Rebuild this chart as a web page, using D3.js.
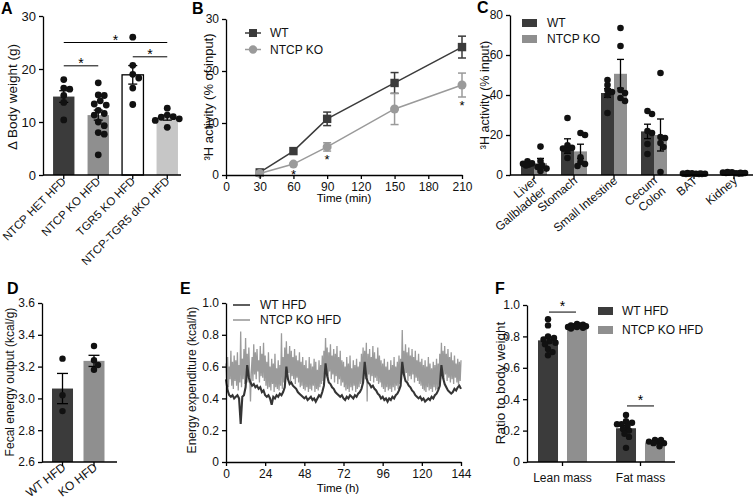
<!DOCTYPE html>
<html>
<head>
<meta charset="utf-8">
<script src="https://cdn.jsdelivr.net/npm/d3@7"></script>
<style>
body { margin: 0; background: #fff; }
</style>
</head>
<body>
<svg id="fig" width="755" height="503"></svg>
<script>
var FONT = '"Liberation Sans", Arial, Helvetica, sans-serif';

// ---- A: body weight gain ----
var groupsA = ["NTCP HET HFD", "NTCP KO HFD", "TGR5 KO HFD", "NTCP-TGR5 dKO HFD"];
var meanA = [14.8, 11.3, 18.9, 10.8];
var semA = [1.1, 0.95, 1.75, 0.45];
var dotsA = [
  [18.0, 16.2, 16.4, 15.0, 13.7, 10.4],
  [17.4, 15.1, 15.0, 14.0, 13.4, 13.2, 12.2, 11.6, 11.3, 10.0, 9.3, 8.0, 7.7, 3.8],
  [26.0, 20.7, 19.0, 18.3, 16.4, 13.3],
  [12.6, 11.3, 11.0, 10.9, 10.6, 10.3, 9.0]
];
var sigA = [[0, 3, 25], [0, 1, 20.6], [2, 3, 22.3]]; // group i, group j, bracket level (g)
var ticksA = [0, 10, 20, 30];

// ---- B: 3H activity over time ----
var timeB = [30, 60, 90, 150, 210];
var wtB = [0.5, 4.6, 10.8, 17.7, 24.6];
var wtSemB = [0.3, 0.4, 1.3, 2.0, 2.1];
var koB = [0.3, 2.1, 5.4, 12.7, 17.3];
var koSemB = [0.2, 0.3, 0.8, 3.0, 2.3];
var starsB = [60, 90, 210];
var ticksBx = [0, 30, 60, 90, 120, 150, 180, 210];
var ticksBy = [0, 10, 20, 30];

// ---- C: 3H activity per organ ----
var organsC = ["Liver\nGallbladder", "Stomach", "Small Intestine", "Cecum\nColon", "BAT", "Kidney"];
var seriesC = ["WT", "NTCP KO"];
var wtC = [5.4, 14.5, 41.0, 21.8, 0.7, 1.2];
var wtSemC = [0.9, 3.6, 2.2, 3.6, 0.2, 0.2];
var koC = [5.9, 11.8, 50.6, 20.0, 0.6, 0.9];
var koSemC = [2.4, 3.6, 7.2, 8.0, 0.1, 0.2];
var wtDotsC = [
  [6.8, 5.8, 5.2, 5.6, 4.8],
  [28.5, 14.8, 13.6, 13.2, 8.5, 12.4],
  [45, 42.5, 47.5, 41.5, 31, 40],
  [32, 30.5, 21, 15.5, 10.5, 22],
  [1.0, 0.7, 0.6, 0.8, 0.5],
  [1.5, 1.2, 1.0, 1.3, 1.1]
];
var koDotsC = [
  [14.2, 7.0, 4.8, 3.2, 2.0, 4.0],
  [21, 20, 8.8, 6.5, 4.5, 5.5],
  [73.5, 64.5, 42.5, 37, 38.5, 41],
  [51, 18.5, 16, 14, 1.5, 19],
  [0.6, 0.5, 0.7, 0.6, 0.5],
  [0.9, 1.1, 0.8, 1.0, 0.7]
];
var ticksC = [0, 20, 40, 60, 80];

// ---- D: fecal energy ----
var groupsD = ["WT HFD", "KO HFD"];
var meanD = [3.062, 3.236];
var semD = [0.095, 0.035];
var dotsD = [[3.25, 3.02, 2.92], [3.33, 3.24, 3.18, 3.21]];
var ticksD = [2.6, 2.8, 3.0, 3.2, 3.4, 3.6];

// ---- E: energy expenditure ----
var stepWtE = 1;   // h between WT samples
var stepKoE = 0.5; // h between KO samples
var wtE = [
  0.52,0.45,0.42,0.41,0.42,0.40,0.41,0.42,0.40,0.24,0.41,0.42,
  0.47,0.61,0.53,0.50,0.48,0.49,0.47,0.48,0.46,0.47,0.44,0.45,
  0.42,0.41,0.42,0.40,0.36,0.41,0.40,0.42,0.41,0.43,0.42,0.44,
  0.47,0.60,0.52,0.49,0.50,0.48,0.47,0.46,0.44,0.43,0.42,0.41,
  0.40,0.41,0.39,0.40,0.41,0.39,0.40,0.38,0.40,0.42,0.41,0.44,
  0.48,0.62,0.54,0.50,0.49,0.47,0.46,0.44,0.43,0.42,0.41,0.42,
  0.40,0.39,0.41,0.40,0.42,0.41,0.40,0.42,0.41,0.43,0.44,0.46,
  0.50,0.63,0.53,0.50,0.49,0.47,0.48,0.46,0.45,0.43,0.42,0.40,
  0.41,0.39,0.40,0.38,0.40,0.39,0.41,0.40,0.42,0.43,0.45,0.48,
  0.63,0.55,0.51,0.50,0.48,0.47,0.45,0.44,0.42,0.41,0.40,0.41,
  0.39,0.40,0.38,0.39,0.40,0.39,0.41,0.40,0.42,0.43,0.45,0.48,
  0.61,0.53,0.49,0.47,0.45,0.44,0.43,0.44,0.46,0.45,0.47,0.48,0.46
];
var koE = [
  0.62,0.50,0.66,0.47,0.60,0.52,0.70,0.48,0.63,0.46,0.67,0.51,0.64,0.48,0.69,0.45,0.61,0.50,0.82,0.47,0.65,0.52,0.71,0.49,
  0.78,0.53,0.68,0.50,0.72,0.54,0.38,0.56,0.66,0.51,0.74,0.55,0.69,0.52,0.71,0.57,0.64,0.50,0.73,0.54,0.68,0.53,0.75,0.51,
  0.67,0.48,0.63,0.46,0.69,0.47,0.60,0.45,0.65,0.49,0.62,0.44,0.68,0.47,0.59,0.46,0.64,0.45,0.61,0.48,0.81,0.46,0.66,0.50,
  0.72,0.55,0.76,0.52,0.68,0.56,0.73,0.50,0.70,0.54,0.66,0.52,0.71,0.49,0.67,0.53,0.64,0.50,0.69,0.47,0.63,0.48,0.66,0.46,
  0.61,0.45,0.64,0.47,0.59,0.44,0.66,0.46,0.62,0.45,0.60,0.48,0.65,0.44,0.63,0.46,0.58,0.45,0.64,0.47,0.61,0.49,0.67,0.51,
  0.70,0.53,0.78,0.55,0.72,0.51,0.69,0.57,0.74,0.52,0.67,0.55,0.71,0.50,0.68,0.54,0.73,0.49,0.66,0.52,0.70,0.48,0.64,0.50,
  0.63,0.47,0.60,0.45,0.66,0.46,0.62,0.44,0.67,0.47,0.59,0.45,0.64,0.48,0.61,0.44,0.65,0.46,0.60,0.47,0.63,0.49,0.68,0.50,
  0.72,0.54,0.70,0.52,0.75,0.38,0.68,0.55,0.71,0.51,0.66,0.54,0.73,0.50,0.69,0.53,0.65,0.51,0.72,0.49,0.67,0.50,0.64,0.47,
  0.62,0.46,0.65,0.44,0.60,0.47,0.63,0.45,0.58,0.46,0.64,0.44,0.61,0.47,0.66,0.45,0.60,0.48,0.63,0.46,0.67,0.49,0.65,0.51,
  0.83,0.55,0.70,0.53,0.74,0.56,0.69,0.51,0.72,0.54,0.67,0.52,0.71,0.55,0.66,0.50,0.70,0.53,0.64,0.51,0.68,0.49,0.63,0.48,
  0.65,0.46,0.61,0.45,0.64,0.44,0.60,0.47,0.66,0.45,0.62,0.46,0.59,0.44,0.63,0.47,0.61,0.45,0.65,0.46,0.62,0.48,0.68,0.52,
  0.75,0.54,0.70,0.52,0.73,0.55,0.68,0.51,0.71,0.53,0.66,0.50,0.69,0.52,0.64,0.49,0.67,0.53,0.62,0.50,0.65,0.48,0.63,0.51,
  0.64
];
var ticksEx = [0, 24, 48, 72, 96, 120, 144];
var ticksEy = [0, 0.2, 0.4, 0.6, 0.8, 1.0];

// ---- F: body composition ----
var groupsF = ["Lean mass", "Fat mass"];
var seriesF = ["WT HFD", "NTCP KO HFD"];
var wtF = [0.775, 0.215];
var wtSemF = [0.02, 0.018];
var koF = [0.865, 0.125];
var koSemF = [0.004, 0.008];
var wtDotsF = [
  [0.91, 0.87, 0.80, 0.79, 0.78, 0.77, 0.76, 0.75, 0.72, 0.70, 0.68],
  [0.30, 0.26, 0.25, 0.24, 0.24, 0.23, 0.21, 0.20, 0.16, 0.09, 0.18]
];
var koDotsF = [
  [0.88, 0.875, 0.87, 0.87, 0.865, 0.865, 0.86, 0.86, 0.855, 0.85],
  [0.14, 0.13, 0.13, 0.12, 0.10, 0.12, 0.14]
];
var sigF = [0.955, 0.357]; // bracket level per group
var ticksF = [0, 0.2, 0.4, 0.6, 0.8, 1.0];

var DARK = "#3b3b3b", MID = "#8f8f8f", LIGHT = "#c6c6c6";

var svg = d3.select("#fig");
var fmt1 = function(d) { return d === 0 ? "0" : d3.format(".1f")(d); };

function styleAxis(g) {
  g.attr("font-family", FONT).attr("font-size", 12);
  g.selectAll(".domain").attr("stroke", "#000").attr("stroke-width", 1.3);
  g.selectAll(".tick line").attr("stroke", "#000").attr("stroke-width", 1.3);
  g.selectAll(".tick text").attr("fill", "#111");
}

function yTitle(text, x, y, size) {
  svg.append("text")
    .attr("transform", "translate(" + x + "," + y + ") rotate(-90)")
    .attr("text-anchor", "middle")
    .style("font-family", FONT).style("font-size", size + "px").attr("fill", "#111")
    .text(text);
}

function letter(t, x, y) {
  svg.append("text").attr("x", x).attr("y", y).text(t)
    .style("font-family", FONT).style("font-size", "16px").style("font-weight", "bold");
}

function errBar(g, cx, y1, y2, cap, color, w) {
  g.append("line").attr("x1", cx).attr("x2", cx).attr("y1", y1).attr("y2", y2)
    .attr("stroke", color).attr("stroke-width", w);
  [y1, y2].forEach(function(yy) {
    g.append("line").attr("x1", cx - cap / 2).attr("x2", cx + cap / 2).attr("y1", yy).attr("y2", yy)
      .attr("stroke", color).attr("stroke-width", w);
  });
}

// column scatter: try offsets 0, +g, -g, +2g ... within maxOff, keep the first that is free
function swarm(vals, cx, y, r, gap, minF, maxOff) {
  var placed = [], out = [];
  var order = vals.map(function(v, i) { return i; }).sort(function(a, b) { return vals[b] - vals[a]; });
  order.forEach(function(i) {
    var py = y(vals[i]), best = cx, bestD = -1;
    for (var k = 0; ; k++) {
      var off = k === 0 ? 0 : Math.ceil(k / 2) * gap * (k % 2 ? 1 : -1);
      if (Math.abs(off) > maxOff) break;
      var px = cx + off;
      var dmin = placed.reduce(function(m, p) { return Math.min(m, Math.hypot(p[0] - px, p[1] - py)); }, 1e9);
      if (dmin >= minF * r) { best = px; bestD = 1e9; break; }
      if (dmin > bestD) { bestD = dmin; best = px; }
    }
    placed.push([best, py]);
    out[i] = [best, py];
  });
  return out;
}

function dots(g, vals, cx, y, r, gap, minF, maxOff) {
  g.selectAll(null).data(swarm(vals, cx, y, r, gap, minF, maxOff)).enter().append("circle")
    .attr("cx", function(d) { return d[0]; })
    .attr("cy", function(d) { return d[1]; })
    .attr("r", r).attr("fill", "#111");
}

function rotLabel(lines, x, y, size, ang) {
  var t = svg.append("text")
    .attr("transform", "translate(" + x + "," + y + ") rotate(" + (-ang) + ")")
    .attr("text-anchor", "end")
    .style("font-family", FONT).style("font-size", size + "px").attr("fill", "#111");
  lines.forEach(function(l, i) {
    t.append("tspan").attr("x", 0).attr("dy", i === 0 ? 0 : "1.1em").text(l);
  });
}

// ======================= A =======================
var xA = d3.scaleBand().domain(groupsA).range([46.5, 184.5]).paddingInner(0.38).paddingOuter(0.19);
var yA = d3.scaleLinear().domain([0, 30]).range([175, 16]);
var colA = [DARK, MID, "#ffffff", LIGHT];
var gA = svg.append("g");

gA.selectAll(".barA").data(groupsA).enter().append("rect")
  .attr("x", function(d) { return xA(d); })
  .attr("y", function(d, i) { return yA(meanA[i]); })
  .attr("width", xA.bandwidth())
  .attr("height", function(d, i) { return yA(0) - yA(meanA[i]); })
  .attr("fill", function(d, i) { return colA[i]; })
  .attr("stroke", function(d, i) { return i === 2 ? "#000" : "none"; })
  .attr("stroke-width", 1.3);

groupsA.forEach(function(gname, i) {
  var cx = xA(gname) + xA.bandwidth() / 2;
  errBar(gA, cx, yA(meanA[i] + semA[i]), yA(meanA[i] - semA[i]), 9, "#000", 1.3);
  dots(gA, dotsA[i], cx, yA, 3.4, 2, 1.75, 13);
  rotLabel([gname], cx + 3, 182, 11.5, 45);
});

sigA.forEach(function(s) {
  var x1 = xA(groupsA[s[0]]) + xA.bandwidth() / 2, x2 = xA(groupsA[s[1]]) + xA.bandwidth() / 2;
  gA.append("line").attr("x1", x1).attr("x2", x2).attr("y1", yA(s[2])).attr("y2", yA(s[2]))
    .attr("stroke", "#000").attr("stroke-width", 1);
  gA.append("text").attr("x", (x1 + x2) / 2).attr("y", yA(s[2]) + 2).attr("text-anchor", "middle")
    .style("font-family", FONT).style("font-size", "14px").text("*");
});

svg.append("g").attr("transform", "translate(43,0)")
  .call(d3.axisLeft(yA).tickValues(ticksA).tickSize(4).tickSizeOuter(0)).call(styleAxis)
  .attr("font-size", 13);
svg.append("g").attr("transform", "translate(0,175)")
  .call(d3.axisBottom(xA).tickSize(4).tickSizeOuter(0).tickFormat(""))
  .call(styleAxis)
  .select(".domain").attr("d", "M43,0H181");

yTitle("\u0394 Body weight (g)", 17, 97, 13.5);
letter("A", 1, 14);

// ======================= B =======================
var xB = d3.scaleLinear().domain([0, 210]).range([226, 462]);
var yB = d3.scaleLinear().domain([0, 30]).range([175, 19]);
var gB = svg.append("g");
var lineB = d3.line().x(function(d) { return xB(d[0]); }).y(function(d) { return yB(d[1]); });
var wtPts = timeB.map(function(t, i) { return [t, wtB[i], wtSemB[i]]; });
var koPts = timeB.map(function(t, i) { return [t, koB[i], koSemB[i]]; });
var KOB = "#9a9a9a";

gB.append("path").datum(wtPts).attr("d", lineB).attr("fill", "none").attr("stroke", DARK).attr("stroke-width", 1.5);
wtPts.forEach(function(p) {
  if (p[2] > 0.6) errBar(gB, xB(p[0]), yB(p[1] + p[2]), yB(p[1] - p[2]), 8, DARK, 1.5);
});
gB.selectAll(".sqB").data(wtPts).enter().append("rect")
  .attr("x", function(d) { return xB(d[0]) - 4.2; })
  .attr("y", function(d) { return yB(d[1]) - 4.2; })
  .attr("width", 8.4).attr("height", 8.4).attr("fill", DARK);

gB.append("path").datum(koPts).attr("d", lineB).attr("fill", "none").attr("stroke", KOB).attr("stroke-width", 1.5);
koPts.forEach(function(p) {
  if (p[2] > 0.6) errBar(gB, xB(p[0]), yB(p[1] + p[2]), yB(p[1] - p[2]), 8, KOB, 1.5);
});
gB.selectAll(".ciB").data(koPts).enter().append("circle")
  .attr("cx", function(d) { return xB(d[0]); })
  .attr("cy", function(d) { return yB(d[1]); })
  .attr("r", 4.5).attr("fill", KOB);

starsB.forEach(function(t) {
  var i = timeB.indexOf(t);
  gB.append("text").attr("x", xB(t)).attr("y", yB(koB[i] - koSemB[i]) + 13).attr("text-anchor", "middle")
    .style("font-family", FONT).style("font-size", "13px").text("*");
});

// legend B
[["WT", DARK, "sq"], ["NTCP KO", KOB, "ci"]].forEach(function(l, i) {
  var ly = 33 + i * 16.5;
  gB.append("line").attr("x1", 245).attr("x2", 261).attr("y1", ly).attr("y2", ly).attr("stroke", l[1]).attr("stroke-width", 1.5);
  if (l[2] === "sq") gB.append("rect").attr("x", 249).attr("y", ly - 4).attr("width", 8).attr("height", 8).attr("fill", l[1]);
  else gB.append("circle").attr("cx", 253).attr("cy", ly).attr("r", 4.2).attr("fill", l[1]);
  gB.append("text").attr("x", 270).attr("y", ly + 4.3).text(l[0])
    .style("font-family", FONT).style("font-size", "12px").attr("fill", "#111");
});

svg.append("g").attr("transform", "translate(226,0)")
  .call(d3.axisLeft(yB).tickValues(ticksBy).tickSize(4).tickSizeOuter(0)).call(styleAxis);
svg.append("g").attr("transform", "translate(0,175)")
  .call(d3.axisBottom(xB).tickValues(ticksBx).tickSize(4).tickSizeOuter(0)).call(styleAxis);
svg.append("text").attr("x", 344).attr("y", 202).attr("text-anchor", "middle").text("Time (min)")
  .style("font-family", FONT).style("font-size", "11.5px");
yTitle("\u00b3H activity (% of input)", 213, 97, 13);
letter("B", 192, 14);

// ======================= C =======================
var xC = d3.scaleBand().domain(organsC).range([514, 754]).paddingInner(0.35).paddingOuter(0.175);
var subC = d3.scaleBand().domain(seriesC).range([0, xC.bandwidth()]);
var yC = d3.scaleLinear().domain([0, 80]).range([175, 15]);
var gC = svg.append("g");
var colC = [DARK, MID];

organsC.forEach(function(o, i) {
  [[wtC, wtSemC, wtDotsC], [koC, koSemC, koDotsC]].forEach(function(s, j) {
    var x0 = xC(o) + subC(seriesC[j]);
    gC.append("rect").attr("x", x0).attr("y", yC(s[0][i])).attr("width", subC.bandwidth())
      .attr("height", yC(0) - yC(s[0][i])).attr("fill", colC[j]);
  });
});
organsC.forEach(function(o, i) {
  [[wtC, wtSemC, wtDotsC], [koC, koSemC, koDotsC]].forEach(function(s, j) {
    var cx = xC(o) + subC(seriesC[j]) + subC.bandwidth() / 2;
    if (s[1][i] > 0.5) errBar(gC, cx, yC(s[0][i] + s[1][i]), yC(s[0][i] - s[1][i]), 7, "#000", 1.3);
    dots(gC, s[2][i], cx, yC, 3.3, 1.5, 1.35, 7);
  });
  var c = xC(o) + xC.bandwidth() / 2;
  rotLabel(o.split("\n"), c + 4, 182, 12, 40);
});

// legend C
seriesC.forEach(function(s, j) {
  var ly = 23 + j * 16;
  gC.append("rect").attr("x", 522).attr("y", ly - 4).attr("width", 15).attr("height", 8).attr("fill", colC[j]);
  gC.append("text").attr("x", 547).attr("y", ly + 4.3).text(s)
    .style("font-family", FONT).style("font-size", "12px").attr("fill", "#111");
});

svg.append("g").attr("transform", "translate(510,0)")
  .call(d3.axisLeft(yC).tickValues(ticksC).tickSize(4).tickSizeOuter(0)).call(styleAxis);
svg.append("g").attr("transform", "translate(0,175)")
  .call(d3.axisBottom(xC).tickSize(4).tickSizeOuter(0).tickFormat(""))
  .call(styleAxis)
  .select(".domain").attr("d", "M510,0H753");
yTitle("\u00b3H activity (% input)", 489, 95, 12.5);
letter("C", 477, 13);

// ======================= D =======================
var xD = d3.scaleBand().domain(groupsD).range([46.75, 109.75]).paddingInner(0.333).paddingOuter(0.1667);
var yD = d3.scaleLinear().domain([2.6, 3.6]).range([462, 303]);
var gD = svg.append("g");
var colD = [DARK, MID];
groupsD.forEach(function(gname, i) {
  var cx = xD(gname) + xD.bandwidth() / 2;
  gD.append("rect").attr("x", xD(gname)).attr("y", yD(meanD[i])).attr("width", xD.bandwidth())
    .attr("height", yD(2.6) - yD(meanD[i])).attr("fill", colD[i]);
  errBar(gD, cx, yD(meanD[i] + semD[i]), yD(meanD[i] - semD[i]), 11, "#000", 1.3);
  dots(gD, dotsD[i], cx, yD, 3.2, 2, 1.75, 9);
  rotLabel([gname], cx + 4, 469, 12, 38);
});
svg.append("g").attr("transform", "translate(42,0)")
  .call(d3.axisLeft(yD).tickValues(ticksD).tickSize(4).tickSizeOuter(0).tickFormat(d3.format(".1f"))).call(styleAxis);
svg.append("g").attr("transform", "translate(0,462)")
  .call(d3.axisBottom(xD).tickSize(4).tickSizeOuter(0).tickFormat(""))
  .call(styleAxis)
  .select(".domain").attr("d", "M42,0H117");
yTitle("Fecal energy output (kcal/g)", 14, 382, 12);
letter("D", 7, 294);

// ======================= E =======================
var xE = d3.scaleLinear().domain([0, 144]).range([226, 461]);
var yE = d3.scaleLinear().domain([0, 1]).range([462, 303]);
var gE = svg.append("g");
var KOE = "#9b9b9b", WTE = "#353535";
var lineKoE = d3.line().x(function(d, i) { return xE(i * stepKoE); }).y(function(d) { return yE(d); });
var lineWtE = d3.line().x(function(d, i) { return xE(i * stepWtE); }).y(function(d) { return yE(d); });
gE.append("path").datum(koE).attr("d", lineKoE).attr("fill", "none").attr("stroke", KOE).attr("stroke-width", 1.3);
gE.append("path").datum(wtE).attr("d", lineWtE).attr("fill", "none").attr("stroke", WTE).attr("stroke-width", 2.1);

[["WT HFD", WTE], ["NTCP KO HFD", KOE]].forEach(function(l, i) {
  var ly = 305 + i * 15;
  gE.append("line").attr("x1", 233).attr("x2", 250).attr("y1", ly).attr("y2", ly).attr("stroke", l[1]).attr("stroke-width", 1.6);
  gE.append("text").attr("x", 260).attr("y", ly + 4.3).text(l[0])
    .style("font-family", FONT).style("font-size", "12px").attr("fill", "#111");
});

svg.append("g").attr("transform", "translate(226,0)")
  .call(d3.axisLeft(yE).tickValues(ticksEy).tickSize(4).tickSizeOuter(0).tickFormat(fmt1)).call(styleAxis);
svg.append("g").attr("transform", "translate(0,462)")
  .call(d3.axisBottom(xE).tickValues(ticksEx).tickSize(4).tickSizeOuter(0)).call(styleAxis);
svg.append("text").attr("x", 338).attr("y", 492).attr("text-anchor", "middle").text("Time (h)")
  .style("font-family", FONT).style("font-size", "11.5px");
yTitle("Energy expenditure (kcal/h)", 196, 380, 12);
letter("E", 180, 294);

// ======================= F =======================
var xF = d3.scaleBand().domain(groupsF).range([523.5, 679.5]).paddingInner(0.372).paddingOuter(0.186);
var subF = d3.scaleBand().domain(seriesF).range([0, xF.bandwidth()]).paddingInner(0.31);
var yF = d3.scaleLinear().domain([0, 1]).range([462, 305]);
var gF = svg.append("g");
var colF = [DARK, MID];

groupsF.forEach(function(gname, i) {
  [[wtF, wtSemF, wtDotsF], [koF, koSemF, koDotsF]].forEach(function(s, j) {
    var x0 = xF(gname) + subF(seriesF[j]);
    var cx = x0 + subF.bandwidth() / 2;
    gF.append("rect").attr("x", x0).attr("y", yF(s[0][i])).attr("width", subF.bandwidth())
      .attr("height", yF(0) - yF(s[0][i])).attr("fill", colF[j]);
    errBar(gF, cx, yF(s[0][i] + s[1][i]), yF(s[0][i] - s[1][i]), 7, "#000", 1.3);
    dots(gF, s[2][i], cx, yF, 3.2, 1.5, 1.5, 9);
  });
  var x1 = xF(gname) + subF(seriesF[0]) + subF.bandwidth() / 2 + 3;
  var x2 = xF(gname) + subF(seriesF[1]) + subF.bandwidth() / 2 - 5;
  gF.append("line").attr("x1", x1 - 2).attr("x2", x2 + 4).attr("y1", yF(sigF[i])).attr("y2", yF(sigF[i]))
    .attr("stroke", "#000").attr("stroke-width", 1);
  gF.append("text").attr("x", (x1 + x2) / 2 + 1).attr("y", yF(sigF[i]) - 1).attr("text-anchor", "middle")
    .style("font-family", FONT).style("font-size", "14px").text("*");
});

seriesF.forEach(function(s, j) {
  var ly = 311 + j * 19;
  gF.append("rect").attr("x", 598).attr("y", ly - 4).attr("width", 15).attr("height", 8).attr("fill", colF[j]);
  gF.append("text").attr("x", 622).attr("y", ly + 4.3).text(s)
    .style("font-family", FONT).style("font-size", "12px").attr("fill", "#111");
});

svg.append("g").attr("transform", "translate(527,0)")
  .call(d3.axisLeft(yF).tickValues(ticksF).tickSize(4).tickSizeOuter(0).tickFormat(fmt1)).call(styleAxis);
var axF = svg.append("g").attr("transform", "translate(0,462)")
  .call(d3.axisBottom(xF).tickSize(4).tickSizeOuter(0))
  .call(styleAxis);
axF.select(".domain").attr("d", "M527,0H675");
axF.selectAll(".tick text").attr("dy", "1.05em");
yTitle("Ratio to body weight", 505, 383, 13.5);
letter("F", 495, 294);
</script>
</body>
</html>
